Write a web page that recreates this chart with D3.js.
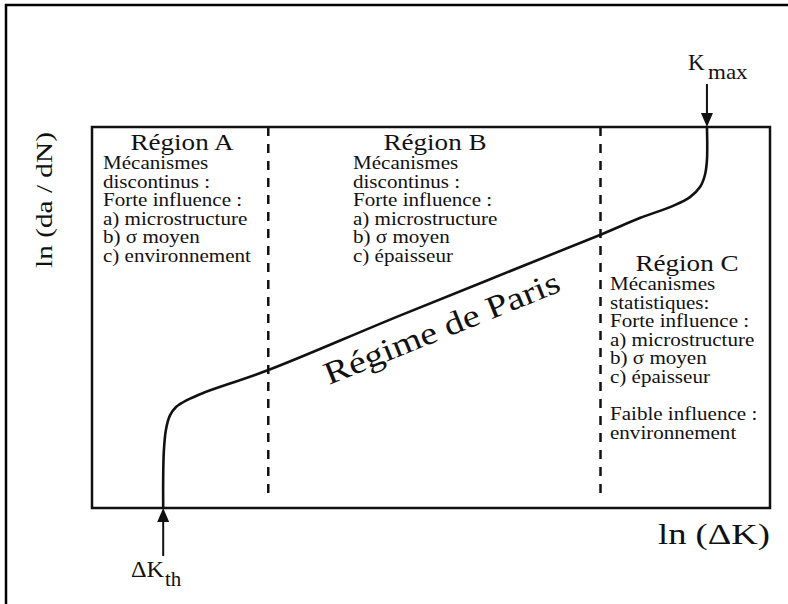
<!DOCTYPE html>
<html><head><meta charset="utf-8">
<script src="https://cdn.jsdelivr.net/npm/d3@7"></script>
<style>html,body{margin:0;padding:0;background:#fff;}svg{display:block;}</style>
</head><body>
<script>
// ---- data (schematic, in arbitrary ln units 0..100) ----
const curveX = [10.5, 10.5, 10.6, 10.9, 11.5, 12.4, 14.0, 16.4, 26.0, 45.4, 75.1, 80.8, 85.7, 88.2, 89.7, 90.4, 90.7, 90.7];
const curveY = [0, 8, 15, 20.5, 24.3, 26.5, 28.3, 30.2, 36.2, 50.5, 71.8, 76.1, 79.3, 81.6, 84.3, 87.4, 91.3, 100];
const regionBounds = [26, 75];
const regionTitles = ["Région A", "Région B", "Région C"];
const regionA = ["Mécanismes", "discontinus :", "Forte influence :", "a) microstructure", "b) σ moyen", "c) environnement"];
const regionB = ["Mécanismes", "discontinus :", "Forte influence :", "a) microstructure", "b) σ moyen", "c) épaisseur"];
const regionC = ["Mécanismes", "statistiques:", "Forte influence :", "a) microstructure", "b) σ moyen", "c) épaisseur", "", "Faible influence :", "environnement"];
const xLabel = "ln (ΔK)";
const yLabel = "ln (da / dN)";
const parisLabel = "Régime de Paris";

// ---- layout ----
const W = 788, H = 604;
const box = {x0: 92, x1: 770, y0: 127, y1: 508};
const FONT = "'Liberation Serif','Times New Roman',serif";
const x = d3.scaleLinear().domain([0, 100]).range([box.x0, box.x1]);
const y = d3.scaleLinear().domain([0, 100]).range([box.y1, box.y0]);

const svg = d3.select("body").append("svg").attr("width", W).attr("height", H);

// outer frame (cropped figure border)
svg.append("rect").attr("x", 6).attr("y", 5).attr("width", 900).attr("height", 800)
  .attr("fill", "none").attr("stroke", "#000").attr("stroke-width", 2.5);

// plot box
svg.append("rect").attr("x", box.x0).attr("y", box.y0)
  .attr("width", box.x1 - box.x0).attr("height", box.y1 - box.y0)
  .attr("fill", "none").attr("stroke", "#111").attr("stroke-width", 2.5);

// dashed region boundaries
svg.selectAll("line.bound").data(regionBounds).join("line")
  .attr("class", "bound")
  .attr("x1", d => x(d)).attr("x2", d => x(d))
  .attr("y1", box.y0).attr("y2", y(3))
  .attr("stroke", "#111").attr("stroke-width", 2.5)
  .attr("stroke-dasharray", "9,8");

// crack growth curve
const pts = curveX.map((v, i) => [v, curveY[i]]);
svg.append("path").datum(pts)
  .attr("d", d3.line().x(d => x(d[0])).y(d => y(d[1])).curve(d3.curveCatmullRom.alpha(0.5)))
  .attr("fill", "none").attr("stroke", "#111").attr("stroke-width", 2.6)
  .attr("stroke-linejoin", "round").attr("stroke-linecap", "round");

// text helper
function txt(str, tx, ty, size, opts = {}) {
  const t = svg.append("text")
    .attr("transform", `translate(${tx},${ty}) rotate(${opts.rot || 0}) scale(${opts.sx || 1},1)`)
    .attr("font-family", FONT).attr("font-size", size)
    .attr("text-anchor", opts.anchor || "start")
    .attr("font-weight", opts.bold ? "bold" : "normal")
    .attr("fill", "#111").text(str);
  return t;
}

// region texts
const regions = [
  {title: regionTitles[0], lines: regionA, cx: 182, left: 103, ty: 150},
  {title: regionTitles[1], lines: regionB, cx: 435, left: 353, ty: 150},
  {title: regionTitles[2], lines: regionC, cx: 687, left: 610, ty: 271}
];
regions.forEach(r => {
  txt(r.title, r.cx, r.ty, 23, {anchor: "middle", sx: 1.18, bold: false});
  r.lines.forEach((l, i) => {
    if (l) txt(l, r.left, r.ty + 19 + i * 18.6, 18, {sx: 1.17});
  });
});

// Paris regime label
txt(parisLabel, 329, 385, 32, {rot: -22, sx: 1.2});

// axis labels
txt(xLabel, 658, 544, 30, {sx: 1.22});
txt(yLabel, 52, 200, 24, {rot: -90, sx: 1.22, anchor: "middle"});

// Kmax arrow (at top end of curve)
const kx = x(curveX[curveX.length - 1]);
svg.append("line").attr("x1", kx).attr("x2", kx).attr("y1", 84).attr("y2", box.y0 - 10)
  .attr("stroke", "#111").attr("stroke-width", 2);
svg.append("path").attr("d", `M${kx},${box.y0} L${kx - 6},${box.y0 - 14} L${kx + 6},${box.y0 - 14} Z`).attr("fill", "#111");
txt("K", 688, 70, 23);
txt("max", 708, 79, 20, {sx: 1.15});

// ΔKth arrow (at bottom start of curve)
const tx0 = x(curveX[0]);
svg.append("line").attr("x1", tx0).attr("x2", tx0).attr("y1", box.y1 + 10).attr("y2", 556)
  .attr("stroke", "#111").attr("stroke-width", 2);
svg.append("path").attr("d", `M${tx0},${box.y1} L${tx0 - 6},${box.y1 + 14} L${tx0 + 6},${box.y1 + 14} Z`).attr("fill", "#111");
txt("ΔK", 131, 577, 23, {sx: 1.05});
txt("th", 165, 586, 20, {sx: 1.05});
</script>
</body></html>
